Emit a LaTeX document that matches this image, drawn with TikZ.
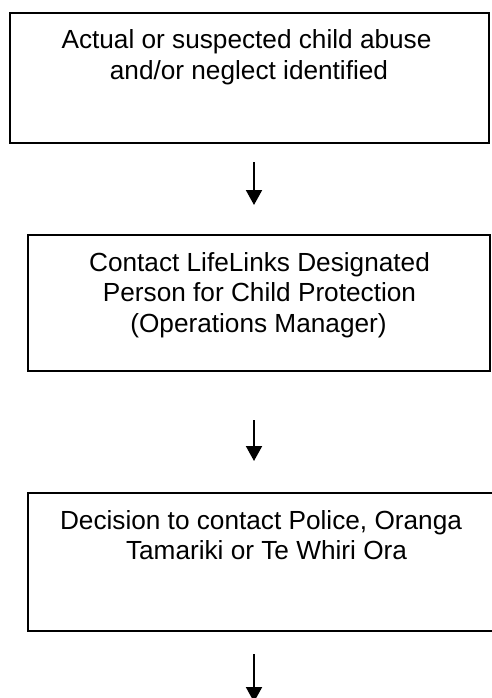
\documentclass[tikz,border=0pt]{standalone}
\usepackage{fontspec}
\setmainfont{Liberation Sans}
\usetikzlibrary{arrows.meta}
\begin{document}
\begin{tikzpicture}[x=1pt,y=-1pt,
  box/.style={draw, line width=2pt, inner sep=0pt, rectangle},
  txt/.style={anchor=base, inner sep=0pt, font=\fontsize{26.2pt}{30.5pt}\selectfont},
  arr/.style={line width=2pt, -{Triangle[length=15pt,width=16pt]}}]
\useasboundingbox (0,0) rectangle (491,698);
\node[box, minimum width=479pt, minimum height=130pt] (b1) at (249.5,78) {};
\node[box, minimum width=462.5pt, minimum height=136pt] (b2) at (258.75,303) {};
\node[box, minimum width=466pt, minimum height=138pt] (b3) at (261,562) {};
\node[txt] (t1a) at (246.5,49) {Actual or suspected child abuse};
\node[txt] (t1b) at (249,80) {and/or neglect identified};
\node[txt] (t2a) at (259.5,271) {Contact LifeLinks Designated};
\node[txt] (t2b) at (259.5,301.5) {Person for Child Protection};
\node[txt] (t2c) at (258.5,332) {(Operations Manager)};
\node[txt] (t3a) at (261,529) {Decision to contact Police, Oranga};
\node[txt] (t3b) at (266.5,559) {Tamariki or Te Whiri Ora};
\coordinate (ax) at (254,0);
\coordinate (end) at (254,702);
\draw[arr, shorten <=18pt, shorten >=29pt] (b1.south -| ax) -- (b2.north -| ax);
\draw[arr, shorten <=48pt, shorten >=31pt] (b2.south -| ax) -- (b3.north -| ax);
\draw[arr, shorten <=22pt] (b3.south -| ax) -- (end);
\end{tikzpicture}
\end{document}
